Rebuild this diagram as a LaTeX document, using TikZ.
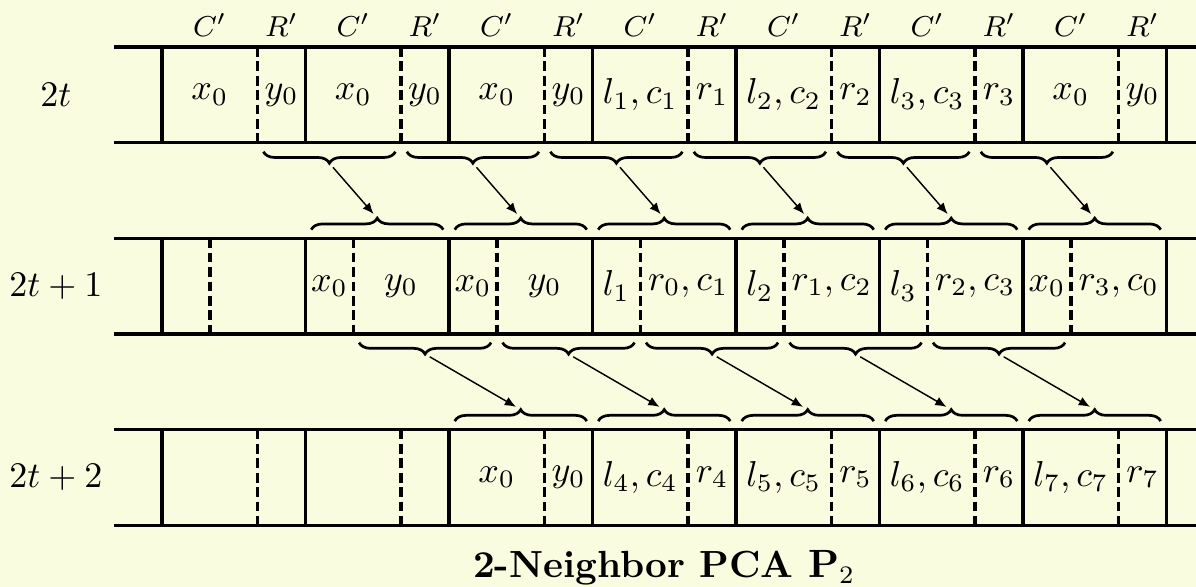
\documentclass[tikz,border=0pt]{standalone}
\usepackage{tikz}
\usetikzlibrary{positioning,arrows.meta,decorations.pathreplacing}
\definecolor{paper}{RGB}{249,252,222}

\begin{document}
\begin{tikzpicture}[
  x=1.4cm, y=1.4cm,
  tape/.style={line width=0.9pt},
  split/.style={line width=1pt, dash pattern=on 2.7pt off 1.3pt},
  cell/.style={inner sep=0pt, font=\normalsize},
  head/.style={inner sep=0pt, font=\footnotesize},
  bracedown/.style={line width=0.75pt, decorate,
                    decoration={brace, mirror, amplitude=0.112cm}},
  braceup/.style={line width=0.75pt, decorate,
                  decoration={brace, amplitude=0.112cm}},
  arr/.style={-{Latex[length=1.1mm, width=0.9mm]}, line width=0.4pt,
              shorten <=1.5pt, shorten >=1.5pt},
]
  % Background
  \fill[paper] (-1.129,0.3275) rectangle (7.206,-3.763);
  \useasboundingbox (-1.129,0.3275) rectangle (7.206,-3.763);

  % Tapes
  \foreach \r in {0,1,2}{
    \draw[tape] (-1/3,-4*\r/3) -- (7.206,-4*\r/3);
    \draw[tape] (-1/3,-4*\r/3-2/3) -- (7.206,-4*\r/3-2/3);
    \foreach \k in {0,...,7}
      \draw[tape] (\k,-4*\r/3) -- (\k,-4*\r/3-2/3);
  }
  \foreach \k in {0,...,6}{
    \draw[split] (\k+2/3,0) -- (\k+2/3,-2/3);
    \draw[split] (\k+1/3,-4/3) -- (\k+1/3,-2);
    \draw[split] (\k+2/3,-8/3) -- (\k+2/3,-10/3);
  }

  % Row labels
  \node (lab0) at (-0.74,-1/3) {$2t$};
  \node (lab1) at (-0.74,-5/3) {$2t+1$};
  \node (lab2) at (-0.74,-3) {$2t+2$};

  % Header
  \foreach \k in {0,...,6}{
    \node[head] (hc\k) at (\k+1/3,0.153) {$C'$};
    \node[head] (hr\k) at (\k+5/6,0.153) {$R'$};
  }

  % Row 2t
  \foreach \k/\a/\b in {0/x_0/y_0, 1/x_0/y_0, 2/x_0/y_0, 3/{l_1,c_1}/r_1,
                        4/{l_2,c_2}/r_2, 5/{l_3,c_3}/r_3, 6/x_0/y_0}{
    \node[cell] (ac\k) at (\k+1/3,-1/3) {$\a$};
    \node[cell] (ar\k) at (\k+5/6,-1/3) {$\b$};
  }

  % Row 2t+1
  \foreach \k/\a/\b in {1/x_0/y_0, 2/x_0/y_0, 3/l_1/{r_0,c_1},
                        4/l_2/{r_1,c_2}, 5/l_3/{r_2,c_3}, 6/x_0/{r_3,c_0}}{
    \node[cell] (bl\k) at (\k+1/6,-5/3) {$\a$};
    \node[cell] (br\k) at (\k+2/3,-5/3) {$\b$};
  }

  % Row 2t+2
  \foreach \k/\a/\b in {2/x_0/y_0, 3/{l_4,c_4}/r_4, 4/{l_5,c_5}/r_5,
                        5/{l_6,c_6}/r_6, 6/{l_7,c_7}/r_7}{
    \node[cell] (cc\k) at (\k+1/3,-3) {$\a$};
    \node[cell] (cr\k) at (\k+5/6,-3) {$\b$};
  }

  % Braces 2t -> 2t+1
  \foreach \j in {0,...,5}{
    \draw[bracedown] (\j+2/3+0.04,-0.73) -- (\j+5/3-0.04,-0.73);
    \coordinate (s\j) at (\j+7/6,-0.81);
    \draw[braceup] (\j+1+0.04,-1.273) -- (\j+2-0.04,-1.273);
    \coordinate (e\j) at (\j+1.5,-1.193);
    \draw[arr] (s\j) -- (e\j);
  }

  % Braces 2t+1 -> 2t+2
  \foreach \j in {1,...,5}{
    \draw[bracedown] (\j+1/3+0.04,-2.06) -- (\j+4/3-0.04,-2.06);
    \coordinate (p\j) at (\j+5/6,-2.14);
    \draw[braceup] (\j+1+0.04,-2.607) -- (\j+2-0.04,-2.607);
    \coordinate (q\j) at (\j+1.5,-2.527);
    \draw[arr] (p\j) -- (q\j);
  }

  % Title
  \node[anchor=base, font=\fontsize{10.5}{12}\selectfont\bfseries] (title)
    at (3.5,-3.70) {2-Neighbor PCA $\mathbf{P}_2$};
\end{tikzpicture}
\end{document}
